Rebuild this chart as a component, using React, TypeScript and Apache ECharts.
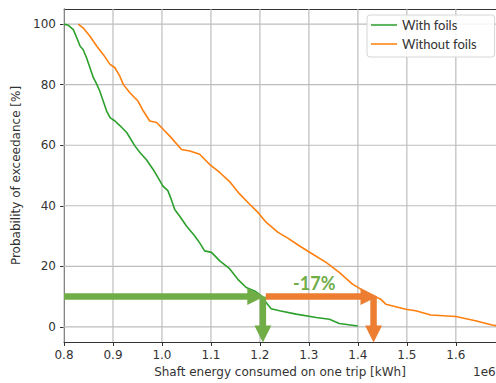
import React, { useEffect, useRef } from "react";
import * as echarts from "echarts";

// Energy in units of 1e6 kWh, probability of exceedance in %
const withFoilsX = [0.800, 0.809, 0.819, 0.826, 0.833, 0.839, 0.846, 0.853, 0.860, 0.867, 0.873, 0.880, 0.887, 0.894, 0.904, 0.914, 0.928, 0.945, 0.955, 0.968, 0.982, 0.992, 1.002, 1.012, 1.019, 1.026, 1.036, 1.050, 1.067, 1.078, 1.087, 1.101, 1.118, 1.138, 1.155, 1.172, 1.190, 1.203, 1.213, 1.223, 1.240, 1.274, 1.315, 1.342, 1.362, 1.400];
const withFoilsY = [100, 99.6, 98.2, 95.5, 92.7, 91.6, 88.9, 85.6, 82.3, 80.1, 77.9, 74.6, 71.3, 69.1, 68.0, 66.5, 64.2, 59.7, 57.6, 55.3, 52.0, 49.3, 46.5, 45.0, 42.1, 38.8, 36.6, 33.3, 30.0, 27.5, 25.1, 24.6, 21.8, 19.2, 15.7, 13.0, 11.8, 10.2, 8.0, 6.0, 5.3, 4.2, 3.1, 2.5, 1.1, 0.3];

const withoutFoilsX = [0.829, 0.839, 0.853, 0.867, 0.880, 0.894, 0.904, 0.914, 0.921, 0.934, 0.951, 0.962, 0.975, 0.989, 1.006, 1.016, 1.040, 1.057, 1.077, 1.097, 1.118, 1.138, 1.158, 1.179, 1.196, 1.213, 1.237, 1.257, 1.281, 1.308, 1.335, 1.362, 1.389, 1.423, 1.447, 1.457, 1.498, 1.518, 1.549, 1.600, 1.640, 1.674, 1.690];
const withoutFoilsY = [100, 98.8, 96.0, 92.7, 90.0, 86.7, 85.6, 82.8, 80.1, 77.4, 74.6, 71.3, 68.0, 67.5, 64.7, 63.0, 58.6, 58.1, 57.0, 53.7, 51.0, 48.0, 44.0, 40.5, 37.8, 34.5, 31.2, 29.3, 26.7, 24.0, 21.3, 18.0, 14.1, 10.8, 9.1, 7.5, 5.8, 5.3, 3.9, 3.4, 2.0, 0.6, 0.2];

const xTicks = [0.8, 0.9, 1.0, 1.1, 1.2, 1.3, 1.4, 1.5, 1.6];
const yTicks = [0, 20, 40, 60, 80, 100];

const seriesNames = ["With foils", "Without foils"];
const lineColors = ["#2ca02c", "#ff7f0e"];
const arrowColors = ["#70ad47", "#ed7d31"];

// Annotation arrows: [x1, y1, x2, y2, colorIndex]
const arrows = [
  [0.8, 10, 1.209, 10, 0],
  [1.206, 10, 1.206, -5.2, 0],
  [1.212, 10, 1.44, 10, 1],
  [1.432, 10, 1.432, -5.2, 1],
];
const reductionLabel = "-17%";
const reductionLabelPos = [1.311, 14.5];

const legendLineIcon = "path://M0,6.2L26,6.2L26,7.8L0,7.8Z M0,0L0.01,0 M0,14L0.01,14";

export default function App() {
  const ref = useRef<HTMLDivElement>(null);
  useEffect(() => {
    if (!ref.current) return;
    const chart = echarts.init(ref.current, null, { renderer: "svg" });
    const axisFont = "DejaVu Sans";
    const gridColor = "#bdbdbd";
    const xMin = 0.8;
    const xMax = 1.682;
    const option: any = {
      animation: false,
      grid: { left: 64, right: -1, top: 9, bottom: 41 },
      legend: {
        orient: "vertical",
        left: 367,
        top: 15,
        padding: [3, 18, 6, 4],
        itemWidth: 26,
        itemHeight: 14,
        itemGap: 5,
        backgroundColor: "rgba(255,255,255,0.85)",
        borderColor: "#d6d6d6",
        borderWidth: 1,
        borderRadius: 3,
        textStyle: { fontFamily: "Lato", fontSize: 13, color: "#333" },
        data: seriesNames.map((n) => ({ name: n, icon: legendLineIcon, textStyle: { color: "#333" } })),
      },
      xAxis: [
        {
          type: "value",
          min: xMin,
          max: xMax,
          name: "Shaft energy consumed on one trip [kWh]",
          nameLocation: "middle",
          nameGap: 24,
          nameTextStyle: { fontFamily: axisFont, fontSize: 12, color: "#333" },
          axisLine: { show: true, onZero: false, lineStyle: { color: "#333", width: 1 } },
          axisTick: { show: true, length: 4, customValues: xTicks, lineStyle: { color: "#333" } },
          axisLabel: {
            customValues: xTicks,
            formatter: (v: number) => v.toFixed(1),
            fontFamily: axisFont,
            fontSize: 12,
            color: "#333",
            margin: 7,
          },
          splitLine: { show: false },
        },
        {
          type: "value",
          position: "top",
          min: xMin,
          max: xMax,
          axisLine: { show: true, onZero: false, lineStyle: { color: "#333", width: 1 } },
          axisTick: { show: false },
          axisLabel: { show: false },
          splitLine: { show: false },
        },
      ],
      yAxis: {
        type: "value",
        min: -5,
        max: 105,
        name: "Probability of exceedance [%]",
        nameLocation: "middle",
        nameGap: 34,
        nameTextStyle: { fontFamily: axisFont, fontSize: 12, color: "#333" },
        axisLine: { show: true, onZero: false, lineStyle: { color: "#333", width: 1 } },
        axisTick: { show: true, length: 4, customValues: yTicks, lineStyle: { color: "#333" } },
        axisLabel: {
          customValues: yTicks,
          fontFamily: axisFont,
          fontSize: 12,
          color: "#333",
          margin: 8,
        },
        splitLine: { show: false },
      },
      series: [
        {
          // vertical grid lines at the x ticks
          type: "custom",
          z: 1,
          data: xTicks.map((v) => [v, 50]),
          renderItem: (params: any, api: any) => {
            const cs = params.coordSys;
            const x = api.coord([api.value(0), api.value(1)])[0];
            return {
              type: "line",
              shape: { x1: x, y1: cs.y, x2: x, y2: cs.y + cs.height },
              style: { stroke: gridColor, lineWidth: 1.2 },
            };
          },
        },
        {
          // horizontal grid lines at the y ticks
          type: "custom",
          z: 1,
          data: yTicks.map((v) => [1.2, v]),
          renderItem: (params: any, api: any) => {
            const cs = params.coordSys;
            const y = api.coord([api.value(0), api.value(1)])[1];
            return {
              type: "line",
              shape: { x1: cs.x, y1: y, x2: cs.x + cs.width, y2: y },
              style: { stroke: gridColor, lineWidth: 1.2 },
            };
          },
        },
        {
          name: seriesNames[0],
          type: "line",
          symbol: "none",
          data: withFoilsX.map((x, i) => [x, withFoilsY[i]]),
          lineStyle: { color: lineColors[0], width: 1.6 },
          itemStyle: { color: lineColors[0] },
          z: 2,
        },
        {
          name: seriesNames[1],
          type: "line",
          symbol: "none",
          data: withoutFoilsX.map((x, i) => [x, withoutFoilsY[i]]),
          lineStyle: { color: lineColors[1], width: 1.6 },
          itemStyle: { color: lineColors[1] },
          z: 2,
        },
        {
          type: "custom",
          clip: false,
          z: 5,
          silent: true,
          data: arrows,
          renderItem: (params: any, api: any) => {
            const p1 = api.coord([api.value(0), api.value(1)]);
            const p2 = api.coord([api.value(2), api.value(3)]);
            const color = arrowColors[api.value(4)];
            const dx = p2[0] - p1[0];
            const dy = p2[1] - p1[1];
            const len = Math.hypot(dx, dy) || 1;
            const ux = dx / len;
            const uy = dy / len;
            const headLen = 17;
            const headW = 8.5;
            const bx = p2[0] - ux * headLen;
            const by = p2[1] - uy * headLen;
            return {
              type: "group",
              children: [
                {
                  type: "line",
                  shape: { x1: p1[0], y1: p1[1], x2: bx + ux * 1, y2: by + uy * 1 },
                  style: { stroke: color, lineWidth: 6.5 },
                },
                {
                  type: "polygon",
                  shape: {
                    points: [
                      [p2[0], p2[1]],
                      [bx - uy * headW, by + ux * headW],
                      [bx + uy * headW, by - ux * headW],
                    ],
                  },
                  style: { fill: color },
                },
              ],
            };
          },
        },
        {
          type: "custom",
          clip: false,
          z: 6,
          silent: true,
          data: [reductionLabelPos],
          renderItem: (params: any, api: any) => {
            const p = api.coord([api.value(0), api.value(1)]);
            return {
              type: "text",
              x: p[0],
              y: p[1],
              style: {
                text: reductionLabel,
                fill: arrowColors[0],
                font: "bold 18px Lato",
                align: "center",
                verticalAlign: "middle",
              },
            };
          },
        },
      ],
      graphic: [
        {
          type: "text",
          left: 473,
          top: 366,
          style: { text: "1e6", font: "12px 'DejaVu Sans'", fill: "#333" },
        },
      ],
    };
    chart.setOption(option);
    return () => chart.dispose();
  }, []);
  return (
    <div
      ref={ref}
      style={{ position: "fixed", left: 0, top: 0, width: 496, height: 383, background: "#ffffff" }}
    />
  );
}
